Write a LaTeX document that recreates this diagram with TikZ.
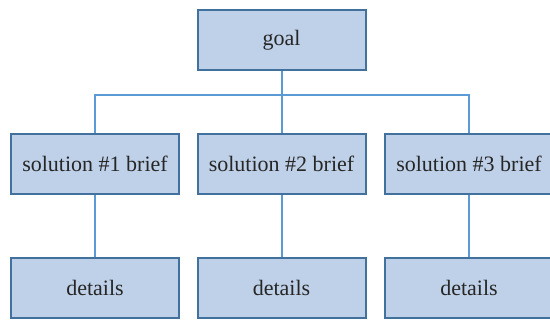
\documentclass[tikz,border=0pt]{standalone}
\usepackage{fontspec}
\setmainfont{Liberation Serif}
\definecolor{boxfill}{HTML}{BFD1E8}
\definecolor{boxedge}{HTML}{41719C}
\definecolor{wire}{HTML}{5B9BD5}
\tikzset{
  treebox/.style={draw=boxedge, fill=boxfill, line width=2pt,
    minimum width=168pt, minimum height=60pt, inner sep=0pt,
    font=\fontsize{22}{26}\selectfont, text=black!85},
  link/.style={draw=wire, line width=2pt}
}
\begin{document}
\begin{tikzpicture}[x=1pt,y=-1pt]
\useasboundingbox (0,0) rectangle (550,320);
% connectors first so the boxes sit on top
\coordinate (bus) at (281.5,95);
\path (281.5,40) coordinate (gc) (95,164) coordinate (c1) (281.5,164) coordinate (c2) (469,164) coordinate (c3)
      (95,288) coordinate (e1) (281.5,288) coordinate (e2) (469,288) coordinate (e3);
\draw[link] (gc) -- (bus);
\draw[link] (bus) -| (c1);
\draw[link] (bus) -| (c3);
\draw[link] (bus) -- (c2);
\draw[link] (c1) -- (e1);
\draw[link] (c2) -- (e2);
\draw[link] (c3) -- (e3);
% boxes
\node[treebox] (goal) at (gc) {goal};
\node[treebox] (s1) at (c1) {solution \#1 brief};
\node[treebox] (s2) at (c2) {solution \#2 brief};
\node[treebox] (s3) at (c3) {solution \#3 brief};
\node[treebox] (d1) at (e1) {details};
\node[treebox] (d2) at (e2) {details};
\node[treebox] (d3) at (e3) {details};
\end{tikzpicture}
\end{document}
